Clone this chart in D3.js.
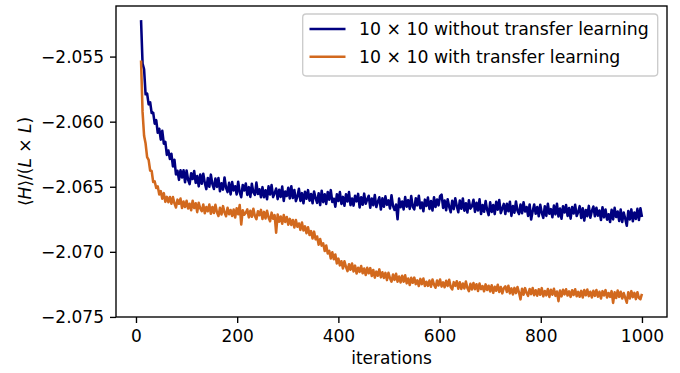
<!DOCTYPE html>
<html>
<head>
<meta charset="utf-8">
<script src="https://cdn.jsdelivr.net/npm/d3@7"></script>
<style>
  html, body { margin: 0; padding: 0; background: #fff; }
  svg text { font-family: "DejaVu Sans", sans-serif; fill: #000; }
</style>
</head>
<body>
<svg id="chart" width="680" height="373"></svg>
<script>
// Energy per site during training, sampled every 3 iterations (10 … 1000)
const iterations = d3.range(10, 1001, 3);

const withoutTransfer = [
  -2.05220, -2.05554, -2.05598, -2.05790, -2.05784, -2.05867, -2.05851, -2.05934, -2.05931, -2.06015,
  -2.05988, -2.06085, -2.06054, -2.06138, -2.06070, -2.06169, -2.06156, -2.06255, -2.06222, -2.06287,
  -2.06246, -2.06344, -2.06292, -2.06405, -2.06377, -2.06447, -2.06373, -2.06428, -2.06373, -2.06466,
  -2.06375, -2.06446, -2.06480, -2.06397, -2.06441, -2.06379, -2.06470, -2.06418, -2.06497, -2.06406,
  -2.06477, -2.06400, -2.06470, -2.06518, -2.06433, -2.06500, -2.06407, -2.06479, -2.06517, -2.06437,
  -2.06501, -2.06433, -2.06535, -2.06474, -2.06522, -2.06429, -2.06509, -2.06541, -2.06470, -2.06559,
  -2.06464, -2.06528, -2.06496, -2.06559, -2.06461, -2.06543, -2.06580, -2.06486, -2.06529, -2.06475,
  -2.06563, -2.06503, -2.06578, -2.06477, -2.06543, -2.06563, -2.06468, -2.06556, -2.06519, -2.06581,
  -2.06503, -2.06581, -2.06527, -2.06596, -2.06497, -2.06559, -2.06487, -2.06580, -2.06549, -2.06514,
  -2.06595, -2.06523, -2.06578, -2.06499, -2.06609, -2.06536, -2.06571, -2.06508, -2.06590, -2.06496,
  -2.06587, -2.06525, -2.06611, -2.06575, -2.06515, -2.06609, -2.06549, -2.06627, -2.06538, -2.06592,
  -2.06526, -2.06607, -2.06556, -2.06627, -2.06536, -2.06588, -2.06624, -2.06550, -2.06641, -2.06530,
  -2.06618, -2.06558, -2.06632, -2.06540, -2.06599, -2.06526, -2.06617, -2.06592, -2.06653, -2.06558,
  -2.06610, -2.06541, -2.06632, -2.06578, -2.06646, -2.06558, -2.06613, -2.06541, -2.06641, -2.06590,
  -2.06645, -2.06569, -2.06612, -2.06555, -2.06659, -2.06580, -2.06638, -2.06553, -2.06631, -2.06596,
  -2.06569, -2.06662, -2.06590, -2.06642, -2.06563, -2.06656, -2.06615, -2.06581, -2.06675, -2.06589,
  -2.06654, -2.06574, -2.06639, -2.06605, -2.06667, -2.06565, -2.06649, -2.06678, -2.06637, -2.06750,
  -2.06590, -2.06657, -2.06613, -2.06674, -2.06579, -2.06653, -2.06603, -2.06670, -2.06572, -2.06655,
  -2.06674, -2.06588, -2.06643, -2.06569, -2.06665, -2.06621, -2.06688, -2.06599, -2.06647, -2.06583,
  -2.06670, -2.06610, -2.06683, -2.06581, -2.06656, -2.06598, -2.06643, -2.06573, -2.06561, -2.06663,
  -2.06606, -2.06681, -2.06596, -2.06654, -2.06696, -2.06607, -2.06672, -2.06589, -2.06648, -2.06696,
  -2.06605, -2.06669, -2.06590, -2.06684, -2.06627, -2.06698, -2.06603, -2.06668, -2.06650, -2.06600,
  -2.06693, -2.06623, -2.06682, -2.06597, -2.06710, -2.06640, -2.06692, -2.06610, -2.06678, -2.06718,
  -2.06620, -2.06693, -2.06640, -2.06710, -2.06615, -2.06676, -2.06602, -2.06703, -2.06667, -2.06632,
  -2.06710, -2.06630, -2.06688, -2.06615, -2.06724, -2.06648, -2.06699, -2.06613, -2.06684, -2.06710,
  -2.06636, -2.06704, -2.06619, -2.06690, -2.06656, -2.06724, -2.06636, -2.06752, -2.06689, -2.06636,
  -2.06708, -2.06655, -2.06727, -2.06638, -2.06700, -2.06739, -2.06650, -2.06724, -2.06631, -2.06708,
  -2.06672, -2.06734, -2.06645, -2.06712, -2.06630, -2.06729, -2.06668, -2.06746, -2.06650, -2.06698,
  -2.06640, -2.06724, -2.06664, -2.06745, -2.06656, -2.06705, -2.06639, -2.06725, -2.06694, -2.06649,
  -2.06740, -2.06666, -2.06760, -2.06678, -2.06726, -2.06647, -2.06738, -2.06686, -2.06652, -2.06727,
  -2.06661, -2.06722, -2.06682, -2.06756, -2.06657, -2.06735, -2.06675, -2.06753, -2.06712, -2.06771,
  -2.06677, -2.06751, -2.06662, -2.06733, -2.06690, -2.06763, -2.06675, -2.06771, -2.06698, -2.06746,
  -2.06800, -2.06686, -2.06751, -2.06674, -2.06765, -2.06698, -2.06747, -2.06670, -2.06756, -2.06665,
  -2.06733
];

const withTransfer = [
  -2.05530, -2.05925, -2.06108, -2.06168, -2.06272, -2.06294, -2.06375, -2.06379, -2.06464, -2.06459,
  -2.06509, -2.06497, -2.06560, -2.06534, -2.06592, -2.06549, -2.06616, -2.06578, -2.06619, -2.06579,
  -2.06631, -2.06579, -2.06628, -2.06659, -2.06599, -2.06631, -2.06591, -2.06663, -2.06614, -2.06656,
  -2.06608, -2.06667, -2.06631, -2.06681, -2.06608, -2.06664, -2.06627, -2.06695, -2.06623, -2.06667,
  -2.06688, -2.06636, -2.06704, -2.06656, -2.06688, -2.06637, -2.06708, -2.06655, -2.06702, -2.06638,
  -2.06696, -2.06725, -2.06661, -2.06713, -2.06649, -2.06698, -2.06727, -2.06662, -2.06711, -2.06679,
  -2.06725, -2.06675, -2.06736, -2.06665, -2.06711, -2.06640, -2.06790, -2.06680, -2.06715, -2.06700,
  -2.06674, -2.06735, -2.06685, -2.06731, -2.06669, -2.06724, -2.06749, -2.06688, -2.06719, -2.06678,
  -2.06748, -2.06693, -2.06743, -2.06685, -2.06736, -2.06765, -2.06699, -2.06746, -2.06718, -2.06853,
  -2.06714, -2.06768, -2.06729, -2.06784, -2.06718, -2.06770, -2.06732, -2.06791, -2.06747, -2.06793,
  -2.06755, -2.06813, -2.06755, -2.06807, -2.06782, -2.06831, -2.06775, -2.06836, -2.06804, -2.06857,
  -2.06811, -2.06871, -2.06841, -2.06898, -2.06845, -2.06904, -2.06882, -2.06945, -2.06902, -2.06952,
  -2.06935, -2.06994, -2.06951, -2.07012, -2.06993, -2.07051, -2.07003, -2.07057, -2.07020, -2.07089,
  -2.07052, -2.07104, -2.07072, -2.07127, -2.07072, -2.07116, -2.07148, -2.07095, -2.07138, -2.07090,
  -2.07151, -2.07106, -2.07167, -2.07122, -2.07154, -2.07109, -2.07165, -2.07128, -2.07178, -2.07123,
  -2.07165, -2.07125, -2.07185, -2.07139, -2.07198, -2.07152, -2.07184, -2.07135, -2.07196, -2.07157,
  -2.07201, -2.07162, -2.07217, -2.07161, -2.07202, -2.07229, -2.07174, -2.07215, -2.07169, -2.07229,
  -2.07189, -2.07236, -2.07184, -2.07229, -2.07180, -2.07242, -2.07205, -2.07255, -2.07200, -2.07238,
  -2.07198, -2.07248, -2.07219, -2.07263, -2.07208, -2.07248, -2.07205, -2.07262, -2.07230, -2.07261,
  -2.07220, -2.07268, -2.07212, -2.07252, -2.07276, -2.07220, -2.07259, -2.07212, -2.07267, -2.07235,
  -2.07272, -2.07222, -2.07262, -2.07215, -2.07270, -2.07289, -2.07233, -2.07261, -2.07226, -2.07283,
  -2.07234, -2.07285, -2.07244, -2.07281, -2.07228, -2.07277, -2.07302, -2.07246, -2.07289, -2.07239,
  -2.07287, -2.07249, -2.07301, -2.07243, -2.07286, -2.07263, -2.07303, -2.07250, -2.07293, -2.07261,
  -2.07304, -2.07257, -2.07315, -2.07268, -2.07299, -2.07253, -2.07308, -2.07270, -2.07319, -2.07278,
  -2.07265, -2.07308, -2.07261, -2.07319, -2.07281, -2.07327, -2.07277, -2.07317, -2.07270, -2.07313,
  -2.07365, -2.07283, -2.07329, -2.07279, -2.07316, -2.07338, -2.07285, -2.07325, -2.07278, -2.07333,
  -2.07295, -2.07337, -2.07287, -2.07330, -2.07279, -2.07342, -2.07301, -2.07334, -2.07286, -2.07346,
  -2.07292, -2.07329, -2.07284, -2.07338, -2.07305, -2.07379, -2.07297, -2.07342, -2.07291, -2.07327,
  -2.07288, -2.07336, -2.07304, -2.07346, -2.07295, -2.07332, -2.07287, -2.07341, -2.07308, -2.07345,
  -2.07300, -2.07351, -2.07294, -2.07334, -2.07289, -2.07340, -2.07307, -2.07350, -2.07299, -2.07338,
  -2.07294, -2.07345, -2.07307, -2.07358, -2.07302, -2.07335, -2.07294, -2.07351, -2.07316, -2.07346,
  -2.07302, -2.07392, -2.07311, -2.07354, -2.07297, -2.07346, -2.07307, -2.07359, -2.07317, -2.07354,
  -2.07391, -2.07310, -2.07359, -2.07302, -2.07348, -2.07315, -2.07363, -2.07310, -2.07355, -2.07364,
  -2.07323
];

const seriesNames = ["10 × 10 without transfer learning", "10 × 10 with transfer learning"];
const seriesColors = ["#000080", "#d2691e"];
const xTicks = [0, 200, 400, 600, 800, 1000];
const yTicks = [-2.075, -2.070, -2.065, -2.060, -2.055];
const xLabel = "iterations";

const W = 680, H = 373;
const margin = { left: 116, right: 13, top: 6, bottom: 56 };
const plotW = W - margin.left - margin.right;
const plotH = H - margin.top - margin.bottom;
const fontSize = 17;
const lineW = 2.55;
const thin = 1.36;

const series = [withoutTransfer, withTransfer].map((vals, k) => ({
  name: seriesNames[k],
  color: seriesColors[k],
  points: vals.map((v, i) => [iterations[i], v])
}));

// Axis limits with a 5% pad around the data
function padded(ext) {
  const d = (ext[1] - ext[0]) * 0.05;
  return [ext[0] - d, ext[1] + d];
}
const allY = withoutTransfer.concat(withTransfer);
const x = d3.scaleLinear().domain(padded(d3.extent(iterations))).range([0, plotW]);
const y = d3.scaleLinear().domain(padded(d3.extent(allY))).range([plotH, 0]);

const svg = d3.select("#chart");
const g = svg.append("g").attr("transform", `translate(${margin.left},${margin.top})`);

g.append("clipPath").attr("id", "plot-clip")
  .append("rect").attr("width", plotW).attr("height", plotH);

// data lines
const line = d3.line().x(d => x(d[0])).y(d => y(d[1]));
g.append("g").attr("clip-path", "url(#plot-clip)")
  .selectAll("path").data(series).join("path")
  .attr("d", d => line(d.points))
  .attr("fill", "none")
  .attr("stroke", d => d.color)
  .attr("stroke-width", lineW)
  .attr("stroke-linejoin", "round");

// axes
const fmtY = d3.format(".3f");
const xAxis = g.append("g").attr("transform", `translate(0,${plotH})`)
  .call(d3.axisBottom(x).tickValues(xTicks).tickSize(6).tickPadding(6).tickFormat(d3.format("d")));
const yAxis = g.append("g")
  .call(d3.axisLeft(y).tickValues(yTicks).tickSize(6).tickPadding(6).tickFormat(fmtY));
[xAxis, yAxis].forEach(ax => {
  ax.select(".domain").remove();
  ax.selectAll(".tick line").attr("stroke", "#000").attr("stroke-width", thin);
  ax.selectAll(".tick text")
    .style("font-family", '"DejaVu Sans", sans-serif')
    .style("font-size", fontSize + "px")
    .attr("fill", "#000");
});
xAxis.selectAll(".tick text").attr("dy", "0.74em");

// frame
g.append("rect")
  .attr("width", plotW).attr("height", plotH)
  .attr("fill", "none").attr("stroke", "#000").attr("stroke-width", thin);

// axis titles
svg.append("text")
  .attr("x", margin.left + plotW / 2).attr("y", 364)
  .attr("text-anchor", "middle")
  .style("font-size", fontSize + "px")
  .text(xLabel);

const yTitle = svg.append("text")
  .attr("transform", `translate(31,${margin.top + plotH / 2}) rotate(-90)`)
  .attr("text-anchor", "middle")
  .style("font-size", fontSize + "px");
[["⟨", false], ["H", true], ["⟩/(", false], ["L", true], [" × ", false], ["L", true], [")", false]]
  .forEach(([t, it]) => yTitle.append("tspan").style("font-style", it ? "italic" : "normal").text(t));

// legend
const lg = svg.append("g");
lg.append("rect")
  .attr("x", 302.7).attr("y", 14).attr("width", 355).attr("height", 62)
  .attr("rx", 3.4).attr("ry", 3.4)
  .attr("fill", "#fff").attr("fill-opacity", 0.8)
  .attr("stroke", "#cccccc").attr("stroke-width", thin);
series.forEach((s, i) => {
  const cy = 29 + i * 27.7;
  lg.append("line")
    .attr("x1", 309.5).attr("x2", 345.5).attr("y1", cy).attr("y2", cy)
    .attr("stroke", s.color).attr("stroke-width", lineW);
  lg.append("text")
    .attr("x", 359).attr("y", cy + 6)
    .style("font-size", "17.3px")
    .text(s.name);
});
</script>
</body>
</html>
